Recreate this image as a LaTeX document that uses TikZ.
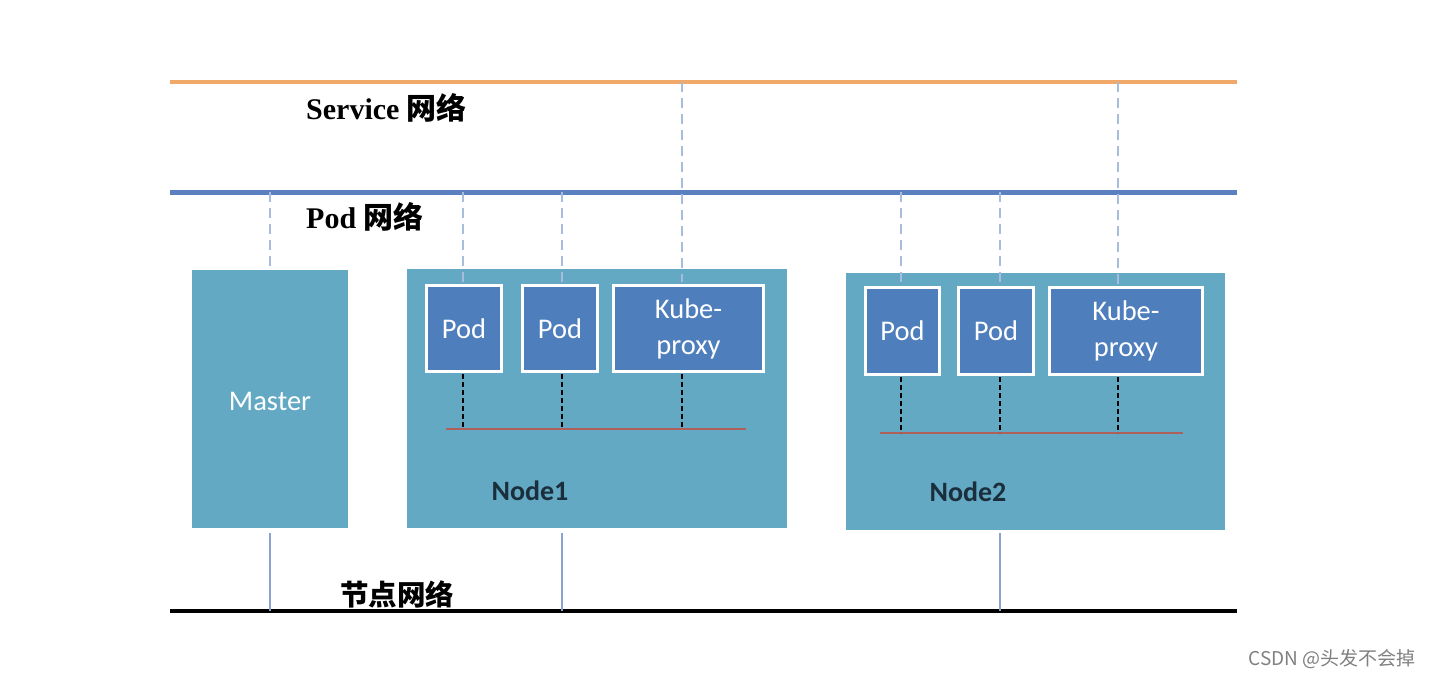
\documentclass[tikz,border=0pt]{standalone}
\usepackage{fontspec}
\setmainfont{Liberation Serif}
\setsansfont{Carlito}
\newfontfamily\cjk{Noto Sans CJK SC}
\begin{document}
\begin{tikzpicture}[x=1pt,y=-1pt,
  hostbox/.style={fill=boxteal, draw=none},
  podbox/.style={fill=podblue, draw=white, line width=3.5pt, font=\sffamily\fontsize{28.5}{36}\selectfont, text=white, align=center},
  netlabel/.style={font=\bfseries\fontsize{30}{32}\selectfont, anchor=west, inner sep=0pt},
  nodelabel/.style={font=\sffamily\bfseries\fontsize{28}{30}\selectfont, text=nodetext},
  updash/.style={draw=dashblue, line width=1.1pt, dash pattern=on 10pt off 6pt},
  indash/.style={draw=black, line width=1.6pt, dash pattern=on 5pt off 3pt},
  bus/.style={draw=busred, line width=2pt},
  downline/.style={draw=downblue, line width=1.1pt}]
\definecolor{boxteal}{HTML}{63A9C4}
\definecolor{podblue}{HTML}{4F7EBD}
\definecolor{dashblue}{HTML}{A8BCDD}
\definecolor{downblue}{HTML}{8DA3CF}
\definecolor{nodetext}{HTML}{1B2E3C}
\definecolor{busred}{HTML}{B0605A}
\definecolor{svcorange}{HTML}{F0A968}
\definecolor{podnet}{HTML}{5A80C0}
\useasboundingbox (0,0) rectangle (1434,678);

% networks
\coordinate (sL) at (170,82);  \coordinate (sR) at (1237,82);
\coordinate (pL) at (170,192); \coordinate (pR) at (1237,192);
\coordinate (nL) at (170,611); \coordinate (nR) at (1237,611);
\draw[svcorange, line width=3.5pt] (sL) -- (sR);
\draw[podnet, line width=5pt] (pL) -- (pR);
\draw[black, line width=3.5pt] (nL) -- (nR);

\node[netlabel] (svclbl) at (306,108) {Service {\cjk\bfseries 网络}};
\node[netlabel] (podlbl) at (306,217) {Pod {\cjk\bfseries 网络}};
\node[netlabel, font=\bfseries\fontsize{28.5}{30}\selectfont] (hostlbl) at (340,594) {{\cjk\bfseries 节点网络}};

% hosts
\node[hostbox, minimum width=156pt, minimum height=258pt] (master) at (270,399) {};
\node[font=\sffamily\fontsize{28.5}{30}\selectfont, text=white] (masterlbl) at (270,401) {Master};
\node[hostbox, minimum width=380pt, minimum height=259pt] (node1) at (597,398.5) {};
\node[hostbox, minimum width=379pt, minimum height=257pt] (node2) at (1035.5,401.5) {};
\node[nodelabel] (n1lbl) at (530,491) {Node1};
\node[nodelabel] (n2lbl) at (968,492) {Node2};

% pods node1
\node[podbox, minimum width=75pt, minimum height=86pt] (p11) at (464,328.5) {Pod};
\node[podbox, minimum width=75pt, minimum height=86pt] (p12) at (560,328.5) {Pod};
\node[podbox, minimum width=150pt, minimum height=86pt] (k1) at (688.5,328.5) {Kube-\\proxy};
% pods node2
\node[podbox, minimum width=74pt, minimum height=87pt] (p21) at (902.5,331) {Pod};
\node[podbox, minimum width=75pt, minimum height=87pt] (p22) at (996,331) {Pod};
\node[podbox, minimum width=153pt, minimum height=87pt] (k2) at (1126,331) {Kube-\\proxy};

% buses inside nodes
\coordinate (b1L) at (446,429); \coordinate (b1R) at (746,429);
\coordinate (b2L) at (880,433); \coordinate (b2R) at (1183,433);
\draw[bus] (b1L) -- (b1R);
\draw[bus] (b2L) -- (b2R);

% upward dashed connectors
\coordinate (mP) at (270,192);
\draw[updash] (mP) -- (master.north);
\draw[updash] (463,192) -- (463,282);
\draw[updash] (562,192) -- (562,282);
\draw[updash] (682,82) -- (682,282);
\draw[updash] (901,192) -- (901,284);
\draw[updash] (1000,192) -- (1000,284);
\draw[updash] (1118,82) -- (1118,284);

% inner dashed connectors
\draw[indash] (463,374) -- (463,429);
\draw[indash] (562,374) -- (562,429);
\draw[indash] (682,374) -- (682,429);
\draw[indash] (901,377) -- (901,433);
\draw[indash] (1000,377) -- (1000,433);
\draw[indash] (1118,377) -- (1118,433);

% downward lines to node network
\draw[downline] (270,533) -- (270,611);
\draw[downline] (562,533) -- (562,611);
\draw[downline] (1000,533) -- (1000,611);

% watermark
\node[font=\cjk\fontsize{19}{21}\selectfont, text=black!50, anchor=east] (wm) at (1419,659) {CSDN @头发不会掉};
\end{tikzpicture}
\end{document}
